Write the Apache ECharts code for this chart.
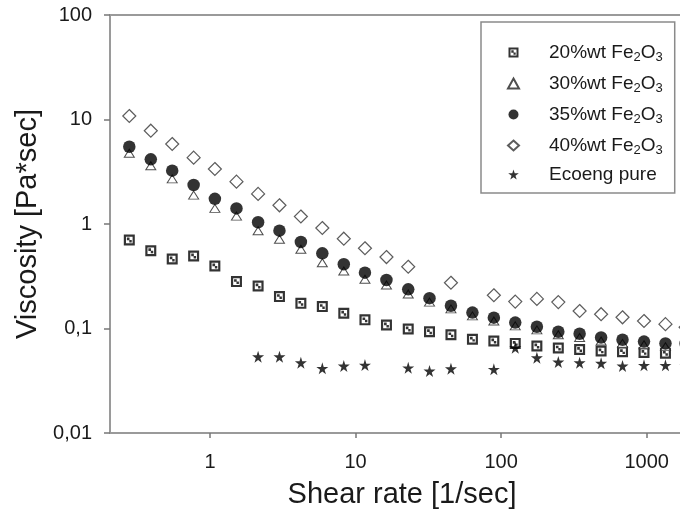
<!DOCTYPE html>
<html>
<head>
<meta charset="utf-8">
<script src="https://cdn.jsdelivr.net/npm/echarts@6/dist/echarts.min.js"></script>
<style>html,body{margin:0;padding:0;background:#fff}#c{width:680px;height:520px}</style>
</head>
<body>
<div id="c"></div>
<script>
// Shear rate [1/sec]
const shear = [0.279, 0.392, 0.550, 0.772, 1.08, 1.52, 2.14, 3.00, 4.21, 5.91, 8.30, 11.6, 16.3, 23.0, 32.2, 45.2, 63.5, 89.1, 125, 176, 247, 346, 486, 682, 958, 1345, 1850];
// Viscosity [Pa*sec]
const fe20 = [0.703, 0.555, 0.462, 0.494, 0.396, 0.281, 0.255, 0.202, 0.174, 0.162, 0.140, 0.121, 0.108, 0.099, 0.093, 0.087, 0.079, 0.076, 0.072, 0.068, 0.065, 0.063, 0.061, 0.060, 0.059, 0.058, 0.058];
const fe30 = [4.75, 3.61, 2.70, 1.89, 1.41, 1.19, 0.863, 0.714, 0.573, 0.426, 0.355, 0.296, 0.261, 0.214, 0.179, 0.154, 0.132, 0.118, 0.106, 0.097, 0.087, 0.082, 0.076, 0.072, 0.070, 0.067, 0.067];
const fe35 = [5.49, 4.16, 3.24, 2.36, 1.74, 1.41, 1.04, 0.863, 0.673, 0.524, 0.412, 0.342, 0.291, 0.237, 0.195, 0.165, 0.142, 0.127, 0.114, 0.104, 0.093, 0.089, 0.082, 0.078, 0.075, 0.072, 0.072];
const fe40 = [10.8, 7.81, 5.83, 4.31, 3.36, 2.54, 1.94, 1.51, 1.18, 0.916, 0.723, 0.586, 0.483, 0.390, null, 0.274, null, 0.208, 0.181, 0.192, 0.179, 0.147, 0.137, 0.128, 0.118, 0.110, 0.103];
const pure = [null, null, null, null, null, null, 0.0537, 0.0537, 0.0471, 0.0416, 0.0438, 0.0447, null, 0.0421, 0.0392, 0.0412, null, 0.0407, 0.0655, 0.0526, 0.0478, 0.0471, 0.0465, 0.0438, 0.0444, 0.0444, 0.0440];

const seriesNames = ['20%wt Fe2O3', '30%wt Fe2O3', '35%wt Fe2O3', '40%wt Fe2O3', 'Ecoeng pure'];
const xTickValues = [1, 10, 100, 1000];
const xTickLabels = ['1', '10', '100', '1000'];
const yTickLabels = ['0,01', '0,1', '1', '10', '100'];
const xMin = 0.2056, xMax = 1693;

const font = 'Liberation Sans, Arial, sans-serif';
const ink = '#1a1a1a';
const axisGray = '#9a9a9a';

function pts(vals) {
  const out = [];
  vals.forEach((v, i) => { if (v != null) out.push([Math.log10(shear[i]), v]); });
  return out;
}

const squarePath = 'path://M0,0 L10,0 L10,10 L0,10 Z M2,2 L2,8 L8,8 L8,2 Z M2.8,2.8 L5.2,2.8 L5.2,5.2 L2.8,5.2 Z M5,5 L7.2,5 L7.2,7.2 L5,7.2 Z';
const starPath = 'path://M50,0 L61,35 L98,35 L68,57 L79,91 L50,70 L21,91 L32,57 L2,35 L39,35 Z';

const xTicksLog = xTickValues.map(v => Math.log10(v));

const chart = echarts.init(document.getElementById('c'), null, {renderer: 'canvas'});
chart.setOption({
  animation: false,
  backgroundColor: '#fff',
  textStyle: {fontFamily: font},
  grid: {left: 110, right: 0, top: 15, bottom: 87},
  legend: {
    orient: 'vertical',
    left: 481, top: 22,
    padding: [19, 12, 9, 26],
    itemWidth: 11, itemHeight: 10, itemGap: 8,
    borderColor: '#8a8a8a', borderWidth: 1.5,
    data: seriesNames,
    formatter: function (name) {
      const m = name.match(/^(.*)Fe2O3$/);
      if (m) return '{f|' + m[1] + 'Fe}{s|2}{t|O}{s|3}';
      return '{f|' + name + '}';
    },
    textStyle: {
      fontFamily: font,
      rich: {
        f: {fontSize: 19, color: ink, lineHeight: 24, padding: [0, 0, 0, 25], fontFamily: font},
        t: {fontSize: 19, color: ink, lineHeight: 24, fontFamily: font},
        s: {fontSize: 13, color: ink, lineHeight: 13, padding: [10, 0, 0, 0], fontFamily: font}
      }
    }
  },
  xAxis: [{
    type: 'value', min: Math.log10(xMin), max: Math.log10(xMax),
    name: 'Shear rate [1/sec]', nameLocation: 'middle', nameGap: 47,
    nameTextStyle: {fontSize: 29, color: ink, fontFamily: font, padding: [0, 0, 0, 14]},
    axisLine: {onZero: false, lineStyle: {color: axisGray, width: 2}},
    axisTick: {show: true, length: 5, customValues: xTicksLog, lineStyle: {color: '#777', width: 1.5}},
    axisLabel: {customValues: xTicksLog, margin: 19, fontSize: 20, color: ink, fontFamily: font,
      formatter: function (v) { return xTickLabels[Math.round(v)]; }},
    splitLine: {show: false}
  }, {
    type: 'value', position: 'top', min: Math.log10(xMin), max: Math.log10(xMax),
    axisLine: {show: true, onZero: false, lineStyle: {color: axisGray, width: 2}},
    axisTick: {show: false}, axisLabel: {show: false}, splitLine: {show: false}
  }],
  yAxis: {
    type: 'log', logBase: 10, min: 0.01, max: 100,
    name: 'Viscosity [Pa*sec]', nameLocation: 'middle', nameGap: 68, nameRotate: 90,
    nameTextStyle: {fontSize: 29, color: ink, fontFamily: font},
    axisLine: {show: true, onZero: false, lineStyle: {color: axisGray, width: 2}},
    axisTick: {show: true, length: 6, lineStyle: {color: '#777', width: 1.5}},
    axisLabel: {margin: 18, fontSize: 20, color: ink, fontFamily: font,
      formatter: function (v) { return yTickLabels[Math.round(Math.log10(v)) + 2]; }},
    splitLine: {show: false}
  },
  series: [
    {name: seriesNames[0], type: 'scatter', data: pts(fe20), symbol: squarePath, symbolSize: 11, clip: false,
      itemStyle: {color: '#000'}},
    {name: seriesNames[1], type: 'scatter', data: pts(fe30), symbol: 'triangle', symbolSize: [10, 8], clip: false,
      itemStyle: {color: '#fff', borderColor: '#222', borderWidth: 1}},
    {name: seriesNames[2], type: 'scatter', data: pts(fe35), symbol: 'circle', symbolSize: 12.5, clip: false,
      itemStyle: {color: '#000'}},
    {name: seriesNames[3], type: 'scatter', data: pts(fe40), symbol: 'diamond', symbolSize: 13, clip: false,
      itemStyle: {color: '#fff', borderColor: '#333', borderWidth: 1.2}},
    {name: seriesNames[4], type: 'scatter', data: pts(pure), symbol: starPath, symbolSize: 12, clip: false,
      itemStyle: {color: '#000'}}
  ]
});
</script>
</body>
</html>
